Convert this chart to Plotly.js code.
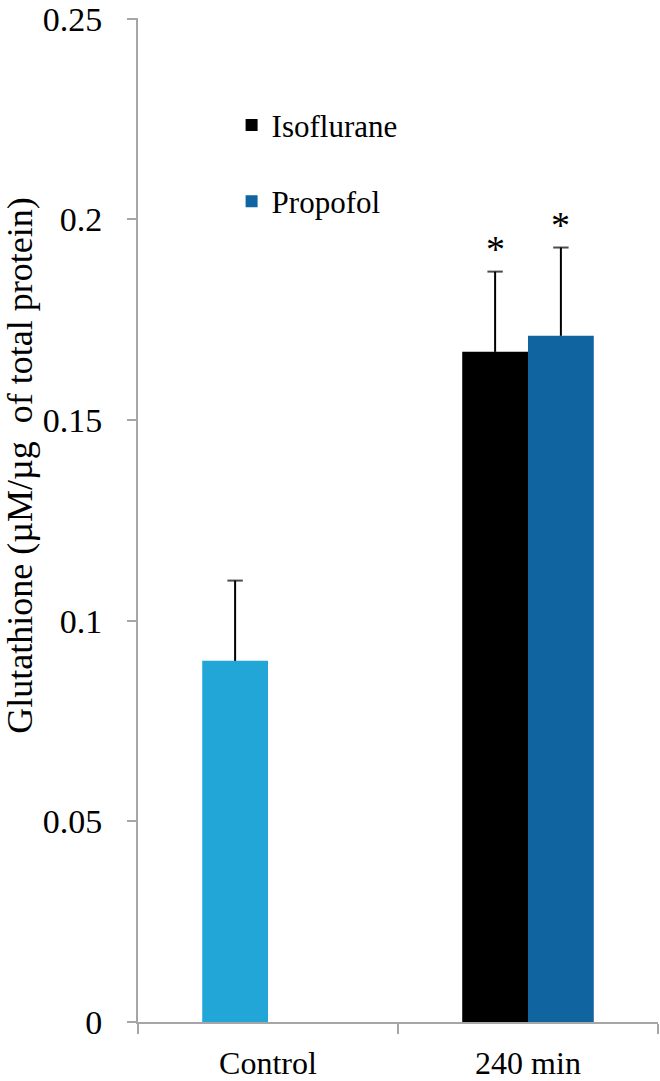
<!DOCTYPE html>
<html>
<head>
<meta charset="utf-8">
<script src="https://cdn.plot.ly/plotly-3.0.1.min.js"></script>
<style>
  html, body { margin: 0; padding: 0; background: #ffffff; }
  #chart { width: 660px; height: 1081px; }
</style>
</head>
<body>
<div id="chart"></div>
<script>
// values (mean + upper SD)
const categories = ['Control', '240 min'];
const controlX = ['Control'];
const controlMean = [0.090];
const controlSd = [0.020];
const treatX = ['240 min'];
const isoMean = [0.167];
const isoSd = [0.020];
const propMean = [0.171];
const propSd = [0.022];
const starText = ['*', '*'];
const yTicks = [0, 0.05, 0.1, 0.15, 0.2, 0.25];
const yTickText = ['0', '0.05', '0.1', '0.15', '0.2', '0.25'];

const BARGAP = 0.494;
const SERIF = '"Liberation Serif", "Times New Roman", serif';

// vertical whisker + cap, drawn only upward like the original
const whisker = (xs, means, sds, group) => {
  const x = [], y = [], size = [];
  xs.forEach((c, i) => {
    x.push(c, c, null);
    y.push(means[i], means[i] + sds[i], null);
    size.push(0, 11, 0);
  });
  return {
    x, y,
    type: 'scatter',
    mode: 'lines+markers',
    offsetgroup: group,
    line: { color: '#000000', width: 2 },
    marker: { symbol: 'line-ew', size, color: '#000000', line: { color: '#000000', width: 2 } },
    showlegend: false,
    hoverinfo: 'skip',
    connectgaps: false
  };
};

const control = {
  x: controlX, y: controlMean,
  type: 'bar', offsetgroup: 'a',
  marker: { color: '#22a6d7' },
  showlegend: false
};

const iso = {
  x: treatX, y: isoMean,
  type: 'bar', name: 'Isoflurane', offsetgroup: 'a', legendgroup: 'iso',
  marker: { color: '#000000' }
};

const prop = {
  x: treatX, y: propMean,
  type: 'bar', name: 'Propofol', offsetgroup: 'b', legendgroup: 'prop',
  marker: { color: '#1064a0' }
};

const slot = (1 - BARGAP) / 2;
const stars = [
  { x: categories.indexOf(treatX[0]) - slot / 2, y: isoMean[0] + isoSd[0], text: starText[0] },
  { x: categories.indexOf(treatX[0]) + slot / 2, y: propMean[0] + propSd[0], text: starText[1] }
].map(s => ({
  ...s,
  xref: 'x', yref: 'y',
  yanchor: 'bottom', yshift: 0,
  showarrow: false,
  font: { family: SERIF, size: 38, color: '#000000' }
}));

const yTitle = {
  text: 'Glutathione (µM/µg\u00a0 of total protein)',
  xref: 'paper', yref: 'paper',
  x: -0.227, y: 0.554,
  xanchor: 'center', yanchor: 'middle',
  textangle: -90,
  showarrow: false,
  font: { family: SERIF, size: 36, color: '#000000' }
};

const layout = {
  width: 660,
  height: 1081,
  paper_bgcolor: '#ffffff',
  plot_bgcolor: '#ffffff',
  barmode: 'group',
  bargap: BARGAP,
  bargroupgap: 0,
  scattermode: 'group',
  scattergap: BARGAP,
  margin: { t: 18, b: 59, l: 138, r: 2 },
  font: { family: SERIF, color: '#000000' },
  xaxis: {
    type: 'category',
    categoryarray: categories,
    range: [-0.5, 1.5],
    showline: true,
    linecolor: '#a6a6a6',
    linewidth: 2,
    ticks: 'outside',
    tickson: 'boundaries',
    ticklen: 10,
    tickwidth: 2,
    tickcolor: '#a6a6a6',
    showgrid: false,
    zeroline: false,
    ticklabelstandoff: 12,
    tickfont: { family: SERIF, size: 32, color: '#000000' }
  },
  yaxis: {
    range: [0, 0.2502],
    tickvals: yTicks,
    ticktext: yTickText,
    showline: true,
    linecolor: '#a6a6a6',
    linewidth: 2,
    ticks: 'outside',
    ticklen: 9,
    tickwidth: 2,
    tickcolor: '#a6a6a6',
    showgrid: false,
    zeroline: false,
    ticklabelstandoff: 18,
    tickfont: { family: SERIF, size: 34, color: '#000000' }
  },
  showlegend: true,
  legend: {
    x: 0.18, y: 0.92,
    xanchor: 'left', yanchor: 'top',
    bgcolor: 'rgba(0,0,0,0)',
    tracegroupgap: 33,
    font: { family: SERIF, size: 31, color: '#000000' }
  },
  annotations: [...stars, yTitle]
};

Plotly.newPlot('chart', [
  control, iso, prop,
  whisker(controlX, controlMean, controlSd, 'a'),
  whisker(treatX, isoMean, isoSd, 'a'),
  whisker(treatX, propMean, propSd, 'b')
], layout, { displayModeBar: false, staticPlot: true });
</script>
</body>
</html>
